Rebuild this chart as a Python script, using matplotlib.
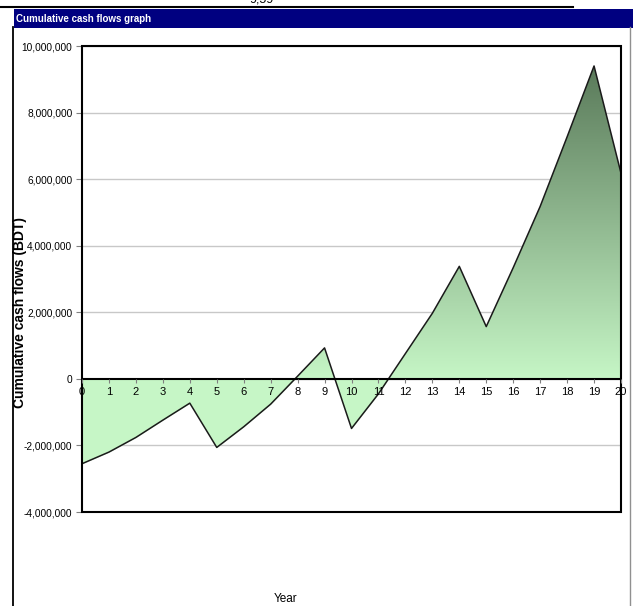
import numpy as np
import matplotlib
matplotlib.use('Agg')
import matplotlib.pyplot as plt
from matplotlib.colors import LinearSegmentedColormap
from matplotlib.patches import Rectangle

# cumulative cash flows (BDT)
years = list(range(0, 21))
cum_cf = [-2550000, -2200000, -1760000, -1240000, -730000, -2060000, -1440000,
          -760000, 80000, 930000, -1490000, -450000, 760000, 1970000, 3380000,
          1570000, 3340000, 5180000, 7270000, 9400000, 6180000]
yticks = [-4000000, -2000000, 0, 2000000, 4000000, 6000000, 8000000, 10000000]

fnt = ['Liberation Sans', 'DejaVu Sans']

fig = plt.figure(figsize=(6.33, 6.06), dpi=100)

# page bits round the chart
fig.add_artist(plt.Line2D([0, 573/633], [1-7/606, 1-7/606], color='black', lw=1.5))
fig.add_artist(plt.Line2D([13/633, 13/633], [0, 1-27/606], color='black', lw=1.3))
fig.add_artist(plt.Line2D([630/633, 630/633], [0, 1-27/606], color='#909090', lw=1.0))
fig.add_artist(Rectangle((14/633, 1-28/606), 619/633, 19/606, facecolor='#000080',
                         edgecolor='none', transform=fig.transFigure))
fig.text(16/633, 1-18.5/606, 'Cumulative cash flows graph', color='white', fontsize=7,
         fontweight='bold', family=fnt, va='center', ha='left')
fig.text(262/633, 1+1/606, '9,59', fontsize=9, family=fnt, va='center', ha='center')

ax = fig.add_axes([82/633, 94/606, 539/633, 466/606])
ax.set_xlim(0, 20)
ax.set_ylim(-4000000, 10000000)

# add the zero crossings so positive / negative parts are clean polygons
xs, ys = [float(years[0])], [float(cum_cf[0])]
for i in range(1, len(years)):
    y0, y1 = cum_cf[i-1], cum_cf[i]
    if y0 * y1 < 0:
        xs.append(years[i-1] + y0 / (y0 - y1))
        ys.append(0.0)
    xs.append(float(years[i]))
    ys.append(float(y1))
xs, ys = np.array(xs), np.array(ys)

cmap = LinearSegmentedColormap.from_list('g', ['#c6f6c6', '#5a7a5a'])
grad = np.linspace(0, 1, 256).reshape(-1, 1)
im = ax.imshow(grad, cmap=cmap, origin='lower', aspect='auto',
               extent=[0, 20, 0, max(cum_cf)], zorder=1)
pos = ax.fill_between(xs, np.maximum(ys, 0), 0, color='none', lw=0, zorder=1)
im.set_clip_path(pos.get_paths()[0], transform=ax.transData)
ax.fill_between(xs, np.minimum(ys, 0), 0, color='#c6f6c6', lw=0, zorder=1.1)
ax.plot(years, cum_cf, color='#1a1a1a', lw=1.1, zorder=3)

ax.axhline(0, color='black', lw=1.5, zorder=4)
ax.grid(axis='y', color='#c8c8c8', lw=1.0)
ax.set_axisbelow(True)

ax.set_yticks(yticks)
ax.set_yticklabels([f'{v:,}' for v in yticks], fontsize=7.3, family=fnt)
ax.tick_params(axis='y', length=4, color='#808080', pad=3)

ax.spines['bottom'].set_position(('data', 0))
ax.spines['bottom'].set_visible(False)
ax.set_xticks(years)
ax.set_xticklabels([str(v) for v in years], fontsize=8, family=fnt)
ax.tick_params(axis='x', length=3, color='#808080', pad=3)
ax.xaxis.set_zorder(6)
for s in ['top', 'left', 'right']:
    ax.spines[s].set_visible(False)
ax.add_patch(Rectangle((0, 0), 1, 1, transform=ax.transAxes, fill=False,
                       edgecolor='black', lw=1.5, clip_on=False, zorder=5))

fig.text(20/633, 1-312/606, 'Cumulative cash flows (BDT)', rotation=90, fontsize=10,
         fontweight='bold', family=fnt, va='center', ha='center')
fig.text(286/633, 1-599/606, 'Year', fontsize=8.5, family=fnt, va='center', ha='center')

fig.savefig('out.png', dpi=100)
